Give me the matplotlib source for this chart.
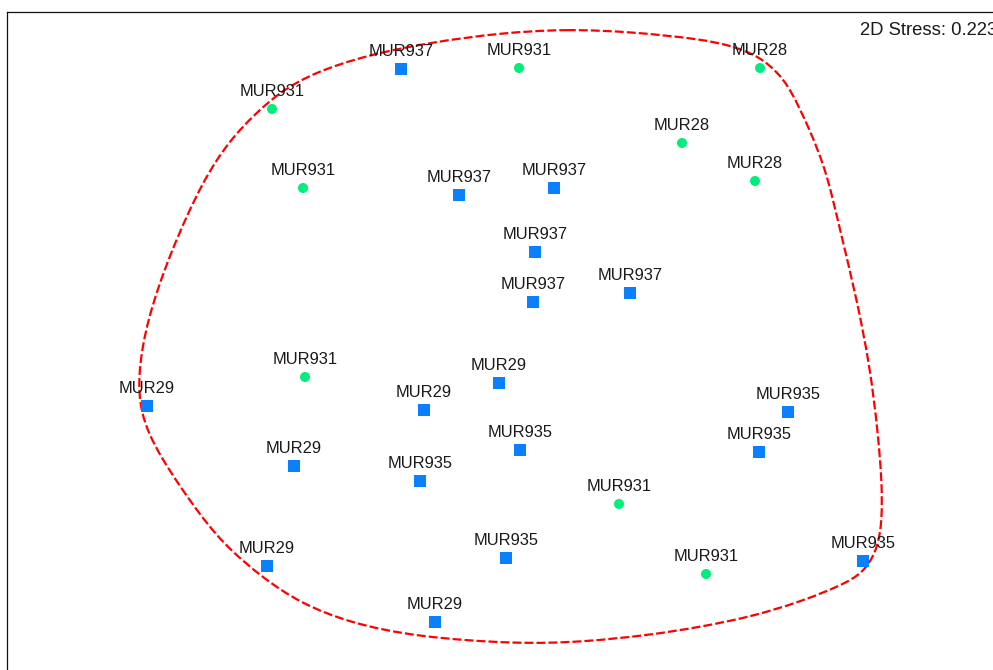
import numpy as np
import matplotlib
matplotlib.use("Agg")
import matplotlib.pyplot as plt
from matplotlib.path import Path
from matplotlib.patches import PathPatch

plt.rcParams['font.family'] = ['Liberation Sans', 'DejaVu Sans']

# NMDS ordination scores
circle_labels = ["MUR931", "MUR931", "MUR28", "MUR28", "MUR28",
                 "MUR931", "MUR931", "MUR931", "MUR931"]
circle_x = [-0.570, 0.0475, 0.650, 0.455, 0.6375, -0.4925, -0.4875, 0.2975, 0.515]
circle_y = [0.6025, 0.705, 0.705, 0.5175, 0.4225, 0.405, -0.0675, -0.385, -0.56]

square_labels = ["MUR937", "MUR937", "MUR937", "MUR937", "MUR937", "MUR937",
                 "MUR29", "MUR29", "MUR29", "MUR29", "MUR29", "MUR29",
                 "MUR935", "MUR935", "MUR935", "MUR935", "MUR935", "MUR935"]
square_x = [-0.2475, -0.1025, 0.135, 0.0875, 0.0825, 0.325,
            -0.8825, -0.0025, -0.19, -0.515, -0.5825, -0.1625,
            0.72, 0.6475, 0.05, -0.2, 0.015, 0.9075]
square_y = [0.7025, 0.3875, 0.405, 0.245, 0.12, 0.1425,
            -0.14, -0.0825, -0.15, -0.29, -0.54, -0.68,
            -0.155, -0.255, -0.25, -0.3275, -0.52, -0.5275]

# control polygon of the outline enclosing all samples (closed, clockwise from the top)
outline_x = [0.1675, 0.3325, 0.5, 0.5825, 0.65, 0.6925, 0.725, 0.775, 0.8175,
             0.85, 0.8925, 0.925, 0.945, 0.955, 0.955, 0.945, 0.9175, 0.875,
             0.75, 0.625, 0.5, 0.375, 0.2075, 0.0425, -0.2075, -0.375, -0.5,
             -0.5925, -0.675, -0.7425, -0.8575, -0.9, -0.905, -0.8825, -0.825,
             -0.7425, -0.675, -0.6125, -0.55, -0.4675, -0.3325, -0.1675, 0.0]
outline_y = [0.8025, 0.795, 0.7775, 0.76, 0.7325, 0.695, 0.655, 0.55, 0.4425,
             0.3, 0.125, -0.0425, -0.2075, -0.3325, -0.425, -0.4925, -0.545, -0.58,
             -0.63, -0.6675, -0.6925, -0.7125, -0.73, -0.735, -0.7175, -0.6825, -0.6325,
             -0.57, -0.5, -0.425, -0.2575, -0.1575, -0.0575, 0.075, 0.2425,
             0.425, 0.525, 0.59, 0.645, 0.6925, 0.7375, 0.77, 0.7925]

stress_text = "2D Stress: 0.223"

fig = plt.figure(figsize=(9.93, 6.70), dpi=100)
ax = fig.add_axes([7 / 993, -20 / 670, 1003 / 993, 678 / 670])
ax.set_xlim(-1.2325, 1.275)
ax.set_ylim(-0.85, 0.845)
ax.set_xticks([])
ax.set_yticks([])
for sp in ax.spines.values():
    sp.set_linewidth(0.9)
    sp.set_color('#111111')


def closed_bspline_path(xs, ys):
    """Closed uniform cubic B-spline on the control polygon, as cubic Beziers."""
    pts = np.column_stack([xs, ys])
    n = len(pts)
    verts, codes = [], []
    for i in range(n):
        p0 = pts[(i - 1) % n]
        p1 = pts[i]
        p2 = pts[(i + 1) % n]
        p3 = pts[(i + 2) % n]
        b0 = (p0 + 4 * p1 + p2) / 6.0
        b1 = (2 * p1 + p2) / 3.0
        b2 = (p1 + 2 * p2) / 3.0
        b3 = (p1 + 4 * p2 + p3) / 6.0
        if i == 0:
            verts.append(b0)
            codes.append(Path.MOVETO)
        verts += [b1, b2, b3]
        codes += [Path.CURVE4] * 3
    return Path(verts, codes)


outline = PathPatch(closed_bspline_path(outline_x, outline_y), facecolor='none',
                    edgecolor='#ff0000', linewidth=1.6,
                    linestyle=(0, (4, 1.4)), zorder=2)
ax.add_patch(outline)

ax.scatter(circle_x, circle_y, s=52, marker='o', color='#00ee7a',
           edgecolors='none', zorder=3)
ax.scatter(square_x, square_y, s=64, marker='s', color='#0a80ff',
           edgecolors='none', zorder=3)

for lab, x, y in list(zip(circle_labels, circle_x, circle_y)) + \
        list(zip(square_labels, square_x, square_y)):
    ax.annotate(lab, (x, y), xytext=(0, 9.5), textcoords='offset points',
                ha='center', va='baseline', fontsize=11.9, color='#1a1a1a',
                zorder=4)

fig.text(860 / 993, 1 - 35 / 670, stress_text, ha='left', va='baseline',
         fontsize=13.3, color='#1a1a1a')

fig.savefig("out.png", dpi=100)
